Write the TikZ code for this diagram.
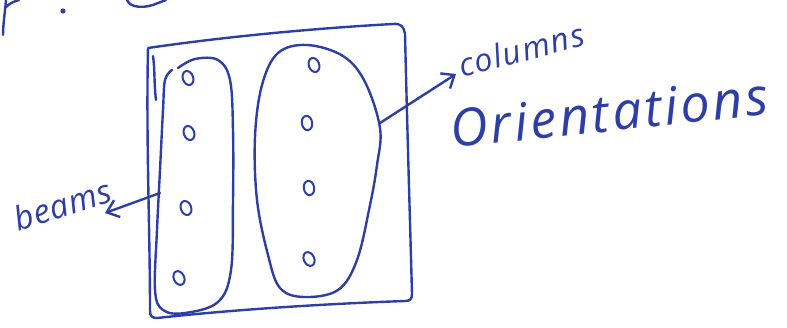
\documentclass[tikz,border=0pt]{standalone}
\usepackage{fontspec}
\setmainfont{Open Sans}
\usetikzlibrary{arrows.meta}
\definecolor{ink}{RGB}{45,62,168}
\tikzset{
  pen/.style={draw=ink, line width=2.4pt, line cap=round, line join=round},
  hand/.style={text=ink, inner sep=0pt},
  barb/.style={pen, -{Straight Barb[length=11pt,width=18pt,line width=2.4pt]}},
  dot/.style={pen, line width=2pt}
}
\begin{document}
\begin{tikzpicture}[x=1pt,y=-1pt]
\useasboundingbox (0,0) rectangle (787,327);
% cropped fragments at top
\draw[pen] (6,0) .. controls (5,12) and (3,25) .. (3,35);
\draw[pen] (6,7) .. controls (10,3) and (15,1) .. (19,0);
\fill[ink] (63,11) circle (2.6);
\draw[pen] (127,0) .. controls (130,8) and (145,9) .. (158,3) -- (166,0);
% outer box
\draw[pen] (148,48) .. controls (230,36) and (320,28) .. (393,24)
  .. controls (401,23) and (404,27) .. (405,34)
  .. controls (407,120) and (410,220) .. (412,294)
  .. controls (412,299) and (410,301) .. (405,301)
  .. controls (320,304) and (230,310) .. (157,318)
  .. controls (152,318) and (150,316) .. (150,311)
  .. controls (150,230) and (146,140) .. (148,48);
\draw[pen] (153,56) .. controls (155,70) and (154,85) .. (156,100);
% left capsule (beams)
\draw[pen] plot[smooth, tension=0.6] coordinates {(178,68) (195,59) (218,60) (230,80) (233,130) (233,200) (231,270) (218,302) (185,313) (163,310) (155,290) (157,230) (160,170) (163,110) (165,80) (172,70)};
% right capsule (columns)
\draw[pen] plot[smooth cycle, tension=0.6] coordinates {(307,45) (343,56) (365,82) (380,128) (377,165) (370,205) (357,260) (338,290) (304,297) (280,288) (268,255) (257,200) (255,137) (262,85) (278,53)};
% dots
\foreach \p/\r in {(188,78)/20,(189,133)/20,(186,208)/20,(179,278)/25,(314,65)/20,(307,123)/10,(309,188)/10,(309,259)/25}
  \draw[dot] \p ellipse[x radius=5.2, y radius=7.2, rotate=\r];
% labels
\node[hand, anchor=base west, rotate=15, font=\itshape\fontsize{32}{32}\selectfont\addfontfeatures{LetterSpace=5}] (columns) at (462,78) {columns};
\node[hand, anchor=base west, rotate=6, font=\itshape\fontsize{52}{52}\selectfont\addfontfeatures{LetterSpace=6}] (orient) at (452,148) {Orientations};
\node[hand, anchor=base west, rotate=18, font=\itshape\fontsize{33}{33}\selectfont\addfontfeatures{LetterSpace=3}] (beams) at (18,232) {beams};
% connectors
\coordinate (colstart) at (380,123);
\coordinate (coltip) at (456,74);
\coordinate (beamstart) at (160,193);
\coordinate (beamtip) at (105,213);
\draw[barb] (colstart) -- (coltip);
\draw[barb] (beamstart) -- (beamtip);
\end{tikzpicture}
\end{document}
